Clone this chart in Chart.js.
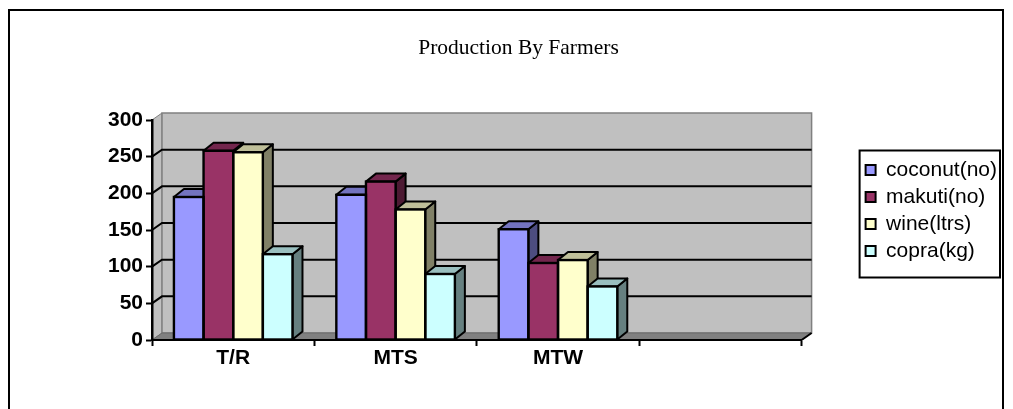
<!DOCTYPE html>
<html>
<head>
<meta charset="utf-8">
<script src="https://cdn.jsdelivr.net/npm/chart.js@4.4.1/dist/chart.umd.min.js"></script>
<style>
  html, body { margin: 0; padding: 0; background: #fff; }
  #wrap { width: 1013px; height: 409px; }
</style>
</head>
<body>
<div id="wrap"><canvas id="c" width="1013" height="409"></canvas></div>
<script>
// Production figures per farmer group
const categories = ['T/R', 'MTS', 'MTW', ''];
const seriesNames = ['coconut(no)', 'makuti(no)', 'wine(ltrs)', 'copra(kg)'];
const coconut = [195, 198, 151, null];
const makuti  = [258, 216, 105, null];
const wine    = [256, 178, 109, null];
const copra   = [117, 90, 73, null];
const yTickMax = 300;
const yTickStep = 50;

// Face colours for the pseudo-3D columns: front, top, side
const palette = [
  { front: '#9999FF', top: '#7373BF', side: '#4D4D80' },
  { front: '#993366', top: '#73264D', side: '#4D1A33' },
  { front: '#FFFFCC', top: '#BFBF99', side: '#808066' },
  { front: '#CCFFFF', top: '#99BFBF', side: '#668080' }
];
const DX = 10, DY = 7;          // depth offset of walls and columns
const BAR_DY = 8;

const seriesValues = [coconut, makuti, wine, copra];

function poly(ctx, pts, fill, stroke, lw) {
  ctx.beginPath();
  ctx.moveTo(pts[0][0], pts[0][1]);
  for (let i = 1; i < pts.length; i++) ctx.lineTo(pts[i][0], pts[i][1]);
  ctx.closePath();
  if (fill) { ctx.fillStyle = fill; ctx.fill(); }
  if (stroke) { ctx.strokeStyle = stroke; ctx.lineWidth = lw; ctx.stroke(); }
}

const depthPlugin = {
  id: 'depth',
  beforeDraw(chart) {
    const { ctx, chartArea: a, scales } = chart;
    ctx.save();
    ctx.fillStyle = '#fff';
    ctx.fillRect(0, 0, chart.width, chart.height);
    // outer frame
    ctx.strokeStyle = '#000';
    ctx.lineWidth = 2;
    ctx.strokeRect(9, 10, 994, 430);

    const L = a.left, R = a.right, T = a.top, B = a.bottom;
    ctx.lineJoin = 'miter';
    // side wall
    poly(ctx, [[L, T], [L + DX, T - DY], [L + DX, B - DY], [L, B]], '#C0C0C0', '#808080', 1);
    // back wall
    poly(ctx, [[L + DX, T - DY], [R + DX, T - DY], [R + DX, B - DY], [L + DX, B - DY]], '#C0C0C0', '#808080', 1.5);
    // floor
    poly(ctx, [[L, B], [L + DX, B - DY], [R + DX, B - DY], [R, B]], '#808080', '#6a6a6a', 1);
    // gridlines across the side and back walls
    const y = scales.y;
    ctx.strokeStyle = '#000';
    ctx.lineWidth = 2;
    for (let v = yTickStep; v < yTickMax; v += yTickStep) {
      const py = y.getPixelForValue(v);
      ctx.beginPath();
      ctx.moveTo(L, py);
      ctx.lineTo(L + DX, py - DY);
      ctx.lineTo(R + DX, py - DY);
      ctx.stroke();
    }
    // floor right edge
    ctx.beginPath();
    ctx.moveTo(R, B);
    ctx.lineTo(R + DX, B - DY);
    ctx.stroke();
    ctx.restore();
  },
  beforeDatasetsDraw(chart) {
    const { ctx } = chart;
    ctx.save();
    ctx.lineJoin = 'round';
    const metas = chart.data.datasets.map((d, i) => chart.getDatasetMeta(i));
    for (let c = 0; c < categories.length; c++) {
      for (let s = 0; s < metas.length; s++) {
        const el = metas[s].data[c];
        if (!el || seriesValues[s][c] == null) continue;
        const p = el.getProps(['x', 'y', 'base', 'width'], true);
        const l = p.x - p.width / 2, r = p.x + p.width / 2;
        const t = p.y, b = p.base;
        poly(ctx, [[r, t], [r + DX, t - BAR_DY], [r + DX, b - BAR_DY], [r, b]], palette[s].side, '#000', 2);
        poly(ctx, [[l, t], [l + DX, t - BAR_DY], [r + DX, t - BAR_DY], [r, t]], palette[s].top, '#000', 2);
      }
    }
    ctx.restore();
  },
  afterDatasetsDraw(chart) {
    const { ctx } = chart;
    ctx.save();
    ctx.strokeStyle = '#000';
    ctx.lineWidth = 2.4;
    chart.data.datasets.forEach((d, s) => {
      chart.getDatasetMeta(s).data.forEach((el, c) => {
        if (seriesValues[s][c] == null) return;
        const p = el.getProps(['x', 'y', 'base', 'width'], true);
        ctx.strokeRect(p.x - p.width / 2, p.y, p.width, p.base - p.y);
      });
    });
    ctx.restore();
  },
  afterDraw(chart) {
    const lg = chart.legend;
    const hb = lg.legendHitBoxes;
    if (!hb || !hb.length) return;
    const { ctx } = chart;
    const last = hb[hb.length - 1];
    const top = hb[0].top - 9;
    ctx.save();
    ctx.strokeStyle = '#000';
    ctx.lineWidth = 2;
    ctx.strokeRect(lg.left, top, lg.right - lg.left - 7, last.top + last.height + 16 - top);
    ctx.restore();
  }
};

const tickFont = { family: "'Liberation Sans', Arial, sans-serif", size: 21, weight: 'bold' };

new Chart(document.getElementById('c'), {
  type: 'bar',
  data: {
    labels: categories,
    datasets: seriesValues.map((vals, i) => ({
      label: seriesNames[i],
      data: vals,
      backgroundColor: palette[i].front,
      borderWidth: 0,
      barPercentage: 1,
      categoryPercentage: 0.73
    }))
  },
  options: {
    responsive: false,
    animation: false,
    devicePixelRatio: 1,
    layout: { padding: { left: 30, right: 6, top: 12, bottom: 0 } },
    plugins: {
      title: {
        display: true,
        text: 'Production By Farmers',
        color: '#000',
        font: { family: "'Liberation Serif', 'Times New Roman', serif", size: 21.5, weight: 'normal', lineHeight: 1.2 },
        padding: { top: 23.5, bottom: 58.7 }
      },
      legend: {
        position: 'right',
        labels: {
          boxWidth: 10,
          boxHeight: 10,
          padding: 6,
          color: '#000',
          font: { family: "'Liberation Sans', Arial, sans-serif", size: 21 },
          generateLabels: (c) => Chart.defaults.plugins.legend.labels.generateLabels(c)
            .map(it => Object.assign(it, { strokeStyle: '#000', lineWidth: 2 }))
        }
      },
      tooltip: { enabled: false }
    },
    scales: {
      x: {
        offset: true,
        grid: { display: true, offset: true, drawOnChartArea: false, drawTicks: true, tickLength: 6, tickColor: '#000', tickWidth: 2 },
        border: { display: true, color: '#000', width: 2 },
        ticks: { color: '#000', font: tickFont, padding: 0, maxRotation: 0, autoSkip: false },
        afterFit: (s) => { s.height = 69; }
      },
      y: {
        min: 0,
        max: yTickMax,
        grid: { display: true, drawOnChartArea: false, drawTicks: true, tickLength: 6, tickColor: '#000', tickWidth: 2 },
        border: { display: true, color: '#000', width: 2.5 },
        ticks: { stepSize: yTickStep, color: '#000', font: tickFont, padding: 3 },
        afterFit: (s) => { s.width = 122; }
      },
      gap: {
        type: 'linear',
        axis: 'y',
        position: 'right',
        grid: { display: false },
        border: { display: false },
        ticks: { display: false },
        afterFit: (s) => { s.width = 58; }
      }
    }
  },
  plugins: [depthPlugin]
});
</script>
</body>
</html>
